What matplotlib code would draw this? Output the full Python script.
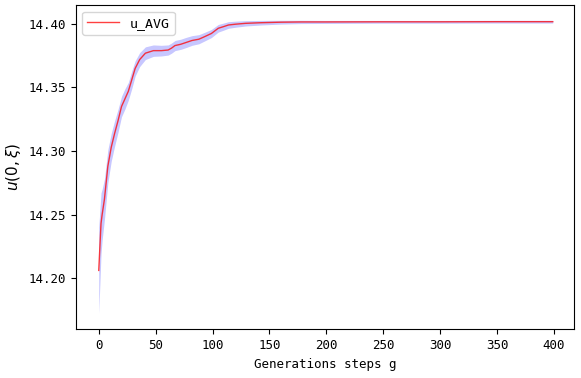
import matplotlib
matplotlib.use("Agg")
import matplotlib.pyplot as plt
import numpy as np

# generation steps sampled along the curve
g = [0, 2, 3, 5, 8, 11, 14, 17, 20, 23, 26, 29, 32, 36, 41, 48, 55, 61,
     64, 67, 72, 77, 82, 88, 93, 99, 105, 110, 114, 120, 129, 143, 160,
     178, 200, 250, 300, 350, 399]
# average u(0, xi)
u_avg = [14.206, 14.243, 14.250, 14.262, 14.288, 14.303, 14.314, 14.324,
         14.335, 14.341, 14.347, 14.356, 14.365, 14.372, 14.377, 14.379,
         14.379, 14.3795, 14.381, 14.383, 14.384, 14.3855, 14.387, 14.388,
         14.390, 14.3925, 14.3966, 14.398, 14.3992, 14.3998, 14.4005,
         14.401, 14.4014, 14.4016, 14.4016, 14.4017, 14.4017, 14.4018,
         14.4018]
# spread of the runs around the average
u_spread = [0.034, 0.024, 0.020, 0.016, 0.013, 0.011, 0.010, 0.009, 0.008,
            0.008, 0.007, 0.007, 0.006, 0.0055, 0.005, 0.0045, 0.0042, 0.004,
            0.004, 0.004, 0.004, 0.004, 0.0038, 0.0036, 0.0034, 0.0032,
            0.003, 0.0028, 0.0026, 0.0024, 0.0021, 0.0018, 0.0015, 0.0013,
            0.0012, 0.0011, 0.0011, 0.0011, 0.0011]

g = np.array(g)
u_avg = np.array(u_avg)
u_spread = np.array(u_spread)

mono = "DejaVu Sans Mono"

fig, ax = plt.subplots(figsize=(5.81, 3.78), dpi=100)
fig.subplots_adjust(left=0.13, right=0.988, top=0.987, bottom=0.129)

ax.fill_between(g, u_avg - u_spread, u_avg + u_spread,
                color="b", alpha=0.22, linewidth=0)
ax.plot(g, u_avg, color="r", alpha=0.75, linewidth=1.0, label="u_AVG")

ax.set_xlim(-20.4, 417.7)
ax.set_ylim(14.1597, 14.415)
ax.set_xticks([0, 50, 100, 150, 200, 250, 300, 350, 400])
ax.set_yticks([14.20, 14.25, 14.30, 14.35, 14.40])
ax.set_yticklabels(["14.20", "14.25", "14.30", "14.35", "14.40"])
for lab in ax.get_xticklabels() + ax.get_yticklabels():
    lab.set_fontfamily(mono)
    lab.set_fontsize(9)

ax.set_xlabel("Generations steps g", fontfamily=mono, fontsize=9)
ax.set_ylabel(r"$u(0,\xi)$", fontsize=11)

leg = ax.legend(loc="upper left", prop={"family": mono, "size": 9.5},
                handlelength=2.4)

fig.savefig("out.png", dpi=100)
